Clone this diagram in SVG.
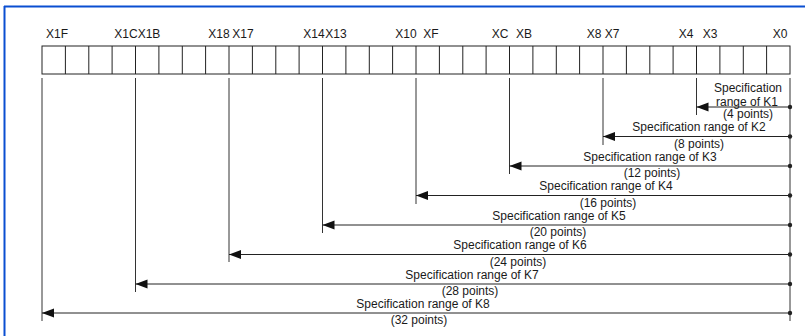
<svg xmlns="http://www.w3.org/2000/svg" width="805" height="336" viewBox="0 0 805 336">
<style>
text{font-family:"Liberation Sans",Arial,sans-serif;font-size:12px;fill:#1a1a1a}
.lbl{text-anchor:middle}
.cell{fill:none;stroke:#222;stroke-width:1}
.vl{stroke:#333;stroke-width:1;fill:none}
.ar{stroke:#222;stroke-width:1;fill:none;marker-end:url(#ah)}
.dot{fill:#222}
</style>
<defs>
<marker id="ah" markerUnits="userSpaceOnUse" markerWidth="13" markerHeight="10" refX="12" refY="4.5" orient="auto">
<path d="M0,0 L12,4.5 L0,9 Z" fill="#111"/>
</marker>
</defs>
<rect x="0" y="0" width="805" height="336" fill="#fff"/>
<g id="frame">
<line x1="4" y1="6.5" x2="805" y2="6.5" stroke="#0a4fd1" stroke-width="2"/>
<line x1="4.5" y1="6" x2="4.5" y2="336" stroke="#0a4fd1" stroke-width="2"/>
</g>
<g id="register">
<rect class="cell" x="42" y="46" width="748" height="28"/>
<path class="cell" d="M65.4,46V74M88.8,46V74M112.1,46V74M135.5,46V74M158.9,46V74M182.3,46V74M205.6,46V74M229,46V74M252.4,46V74M275.8,46V74M299.1,46V74M322.5,46V74M345.9,46V74M369.3,46V74M392.6,46V74M416,46V74M439.4,46V74M462.8,46V74M486.1,46V74M509.5,46V74M532.9,46V74M556.3,46V74M579.6,46V74M603,46V74M626.4,46V74M649.8,46V74M673.1,46V74M696.5,46V74M719.9,46V74M743.3,46V74M766.6,46V74"/>
<text class="lbl" x="57" y="38">X1F</text>
<text class="lbl" x="126" y="38">X1C</text>
<text class="lbl" x="149" y="38">X1B</text>
<text class="lbl" x="219" y="38">X18</text>
<text class="lbl" x="243" y="38">X17</text>
<text class="lbl" x="314" y="38">X14</text>
<text class="lbl" x="336" y="38">X13</text>
<text class="lbl" x="406" y="38">X10</text>
<text class="lbl" x="431" y="38">XF</text>
<text class="lbl" x="500" y="38">XC</text>
<text class="lbl" x="524" y="38">XB</text>
<text class="lbl" x="594" y="38">X8</text>
<text class="lbl" x="612" y="38">X7</text>
<text class="lbl" x="686" y="38">X4</text>
<text class="lbl" x="710" y="38">X3</text>
<text class="lbl" x="780" y="38">X0</text>
</g>
<g id="connectors">
<line class="vl" x1="790" y1="78" x2="790" y2="321"/>
<line class="vl" x1="696.5" y1="78" x2="696.5" y2="115"/>
<line class="vl" x1="603" y1="78" x2="603" y2="145"/>
<line class="vl" x1="509.5" y1="78" x2="509.5" y2="174"/>
<line class="vl" x1="416" y1="78" x2="416" y2="204"/>
<line class="vl" x1="322.5" y1="78" x2="322.5" y2="233"/>
<line class="vl" x1="229" y1="78" x2="229" y2="262"/>
<line class="vl" x1="135.5" y1="78" x2="135.5" y2="292"/>
<line class="vl" x1="42" y1="78" x2="42" y2="321"/>
<line class="ar" x1="790" y1="107" x2="696.5" y2="107"/>
<line class="ar" x1="790" y1="136.5" x2="603" y2="136.5"/>
<line class="ar" x1="790" y1="166" x2="509.5" y2="166"/>
<line class="ar" x1="790" y1="195.5" x2="416" y2="195.5"/>
<line class="ar" x1="790" y1="225" x2="322.5" y2="225"/>
<line class="ar" x1="790" y1="254.5" x2="229" y2="254.5"/>
<line class="ar" x1="790" y1="284" x2="135.5" y2="284"/>
<line class="ar" x1="790" y1="313" x2="42" y2="313"/>
<circle class="dot" cx="790" cy="107" r="2.2"/>
<circle class="dot" cx="790" cy="136.5" r="2.2"/>
<circle class="dot" cx="790" cy="166" r="2.2"/>
<circle class="dot" cx="790" cy="195.5" r="2.2"/>
<circle class="dot" cx="790" cy="225" r="2.2"/>
<circle class="dot" cx="790" cy="254.5" r="2.2"/>
<circle class="dot" cx="790" cy="284" r="2.2"/>
<circle class="dot" cx="790" cy="313" r="2.2"/>
</g>
<g id="k1">
<text class="lbl" x="748" y="92">Specification</text>
<text class="lbl" x="747" y="105.5">range of K1</text>
<text class="lbl" x="748" y="118">(4 points)</text>
</g>
<g id="k2">
<text class="lbl" x="699" y="131">Specification range of K2</text>
<text class="lbl" x="699" y="147.5">(8 points)</text>
</g>
<g id="k3">
<text class="lbl" x="650" y="160.5">Specification range of K3</text>
<text class="lbl" x="652" y="177">(12 points)</text>
</g>
<g id="k4">
<text class="lbl" x="606" y="190">Specification range of K4</text>
<text class="lbl" x="608" y="206.5">(16 points)</text>
</g>
<g id="k5">
<text class="lbl" x="559" y="219.5">Specification range of K5</text>
<text class="lbl" x="558" y="236">(20 points)</text>
</g>
<g id="k6">
<text class="lbl" x="520" y="249">Specification range of K6</text>
<text class="lbl" x="518" y="265.5">(24 points)</text>
</g>
<g id="k7">
<text class="lbl" x="472" y="278.5">Specification range of K7</text>
<text class="lbl" x="470" y="295">(28 points)</text>
</g>
<g id="k8">
<text class="lbl" x="423" y="307.5">Specification range of K8</text>
<text class="lbl" x="419" y="324">(32 points)</text>
</g>
</svg>
